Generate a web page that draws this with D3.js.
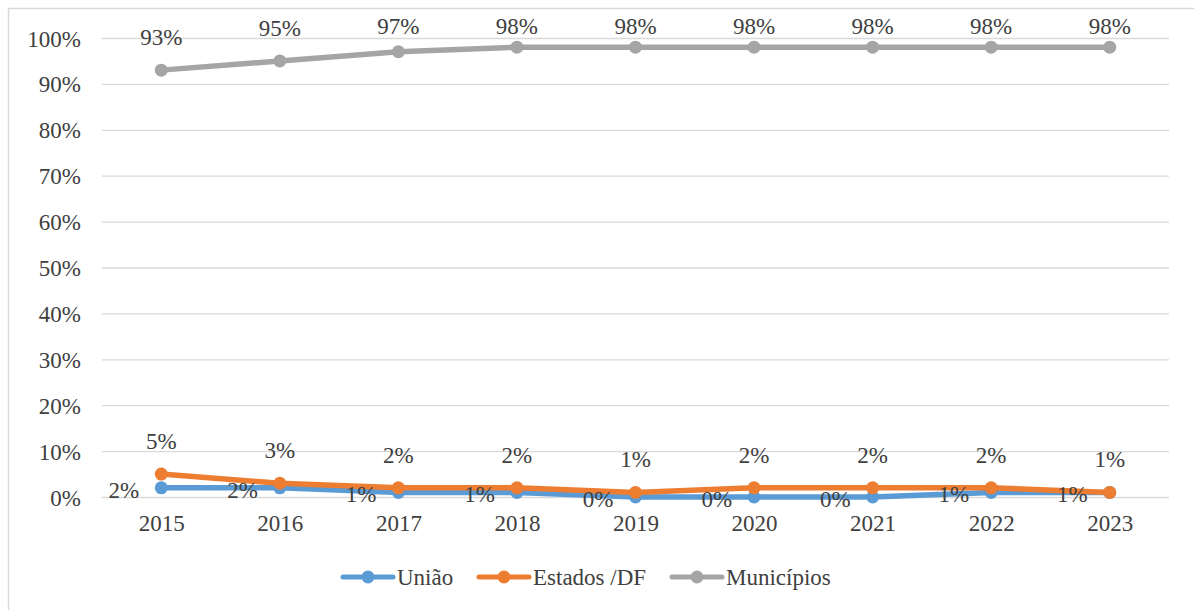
<!DOCTYPE html>
<html>
<head>
<meta charset="utf-8">
<script src="https://cdn.jsdelivr.net/npm/d3@7"></script>
<style>
  body { margin: 0; background: #fff; }
  svg { display: block; font-family: "Liberation Serif", "Times New Roman", serif; }
</style>
</head>
<body>
<div id="chart-wrapper"></div>
<script>
// Chart data
const years = ["2015", "2016", "2017", "2018", "2019", "2020", "2021", "2022", "2023"];
const uniao = [2, 2, 1, 1, 0, 0, 0, 1, 1];
const estados = [5, 3, 2, 2, 1, 2, 2, 2, 1];
const municipios = [93, 95, 97, 98, 98, 98, 98, 98, 98];
const yTicks = [0, 10, 20, 30, 40, 50, 60, 70, 80, 90, 100];

const series = [
  { name: "União", values: uniao, color: "#5B9BD5", label: "left" },
  { name: "Estados /DF", values: estados, color: "#ED7D31", label: "above" },
  { name: "Municípios", values: municipios, color: "#A5A5A5", label: "above" }
];

const FONT = "'Liberation Serif', 'Times New Roman', serif";
const FS = 23;

const initChart = () => {
  const fullWidth = 1194, fullHeight = 610;
  const plot = { left: 102, right: 1169, top: 38, bottom: 497 };

  const svg = d3.select("#chart-wrapper").append("svg")
    .attr("width", fullWidth)
    .attr("height", fullHeight);

  // outer border (only top and left visible in the crop)
  svg.append("path")
    .attr("d", `M8.5,${fullHeight} V8.5 H${fullWidth}`)
    .attr("fill", "none")
    .attr("stroke", "#d9d9d9")
    .attr("stroke-width", 1.5);

  const xScale = d3.scalePoint()
    .domain(years)
    .range([plot.left, plot.right])
    .padding(0.5);

  const yScale = d3.scaleLinear()
    .domain([0, 100])
    .range([plot.bottom, plot.top]);

  // gridlines + y labels
  const yAxis = d3.axisLeft(yScale)
    .tickValues(yTicks)
    .tickSize(-(plot.right - plot.left))
    .tickFormat(d => d + "%");

  const gy = svg.append("g")
    .attr("transform", `translate(${plot.left},0)`)
    .call(yAxis);
  gy.select(".domain").remove();
  gy.selectAll(".tick line").attr("stroke", "#d9d9d9").attr("stroke-width", 1.3);
  gy.selectAll(".tick text")
    .attr("fill", "#404040")
    .style("font-size", FS + "px")
    .style("font-family", FONT)
    .attr("dy", "0.35em")
    .attr("x", -21);

  // x labels
  const xAxis = d3.axisBottom(xScale).tickSize(0).tickPadding(18);
  const gx = svg.append("g")
    .attr("transform", `translate(0,${plot.bottom})`)
    .call(xAxis);
  gx.select(".domain").remove();
  gx.selectAll(".tick text")
    .attr("fill", "#404040")
    .style("font-size", FS + "px")
    .style("font-family", FONT);

  const line = d3.line()
    .x((d, i) => xScale(years[i]))
    .y(d => yScale(d));

  series.forEach(s => {
    const g = svg.append("g");
    g.append("path")
      .datum(s.values)
      .attr("d", line)
      .attr("fill", "none")
      .attr("stroke", s.color)
      .attr("stroke-width", 5.5)
      .attr("stroke-linejoin", "round");
    g.selectAll("circle")
      .data(s.values)
      .enter()
      .append("circle")
      .attr("cx", (d, i) => xScale(years[i]))
      .attr("cy", d => yScale(d))
      .attr("r", 6.5)
      .attr("fill", s.color);
  });

  // data labels (labels above are kept inside the chart area, like Excel does)
  series.forEach(s => {
    svg.append("g").selectAll("text")
      .data(s.values)
      .enter()
      .append("text")
      .attr("x", (d, i) => s.label === "left" ? xScale(years[i]) - 22 : xScale(years[i]))
      .attr("y", d => s.label === "left" ? yScale(d) + 10 : Math.max(34, yScale(d) - 25))
      .attr("text-anchor", s.label === "left" ? "end" : "middle")
      .style("font-size", FS + "px")
      .style("font-family", FONT)
      .attr("fill", "#404040")
      .text(d => d + "%");
  });

  // legend
  const legendItems = [
    { s: series[0], x: 343 },
    { s: series[1], x: 479 },
    { s: series[2], x: 672 }
  ];
  const legendY = 577;
  const lg = svg.append("g");
  legendItems.forEach(item => {
    lg.append("line")
      .attr("x1", item.x).attr("x2", item.x + 50)
      .attr("y1", legendY).attr("y2", legendY)
      .attr("stroke", item.s.color)
      .attr("stroke-width", 5)
      .attr("stroke-linecap", "round");
    lg.append("circle")
      .attr("cx", item.x + 25).attr("cy", legendY)
      .attr("r", 6.5)
      .attr("fill", item.s.color);
    lg.append("text")
      .attr("x", item.x + 54)
      .attr("y", legendY + 8)
      .style("font-size", FS + "px")
      .style("font-family", FONT)
      .attr("fill", "#404040")
      .text(item.s.name);
  });
}

window.onload = () => {
  initChart();
}
</script>
</body>
</html>
